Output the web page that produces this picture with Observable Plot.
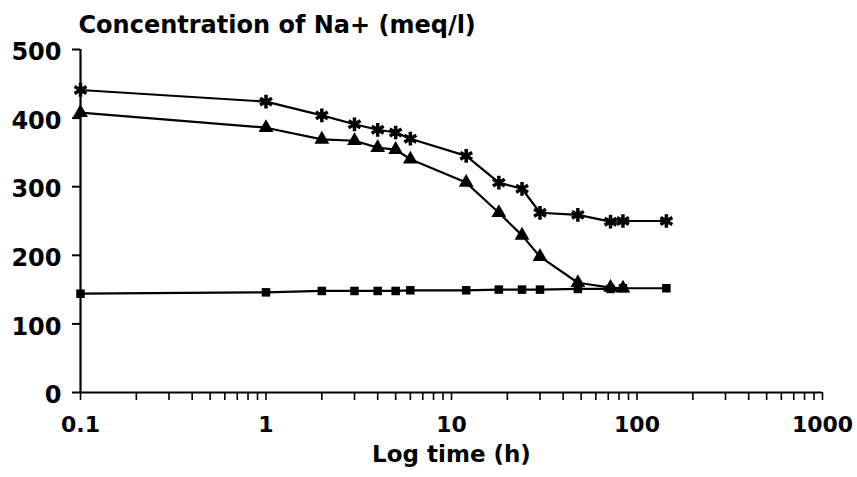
<!DOCTYPE html>
<html><head><meta charset="utf-8">
<script src="https://cdn.jsdelivr.net/npm/d3@7"></script>
<script src="https://cdn.jsdelivr.net/npm/@observablehq/plot@0.6"></script>
<style>
html,body{margin:0;padding:0;background:#fff;}
</style></head><body><div id="chart"></div>
<script>
const times = [0.1, 1, 2, 3, 4, 5, 6, 12, 18, 24, 30, 48, 72, 84, 144];
const starValues = [441, 424, 404, 391, 383, 379, 370, 345, 306, 297, 262, 259, 249, 250, 250];
const triangleValues = [408, 386, 369, 367, 357, 354, 340, 306, 262, 229, 198, 160, 153, 152, null];
const squareValues = [144, 146, 148, 148, 148, 148, 149, 149, 150, 150, 150, 151, 151, 152, 152];
const seriesNames = ["star", "triangle", "square"];
const seriesSymbols = ["asterisk", "triangle", "square"];
const yTicks = [0, 100, 200, 300, 400, 500];
const xDecades = [0.1, 1, 10, 100, 1000];
const xDecadeLabels = ["0.1", "1", "10", "100", "1000"];
const xMinorMultipliers = [2, 3, 4, 5, 6, 7, 8, 9];
const yTitle = "Concentration of Na+ (meq/l)";
const xTitle = "Log time (h)";

const valuesBySeries = [starValues, triangleValues, squareValues];
const table = [];
seriesNames.forEach((s, i) => {
  times.forEach((t, j) => {
    const v = valuesBySeries[i][j];
    if (v != null) table.push({series: s, time: t, value: v});
  });
});
const xTicks = [...xDecades];
xDecades.slice(0, -1).forEach(d => xMinorMultipliers.forEach(m => xTicks.push(+(d * m).toPrecision(3))));
const labelOf = d => {
  const k = xDecades.findIndex(v => Math.abs(v - d) < 1e-9);
  return k >= 0 ? xDecadeLabels[k] : "";
};

const chart = Plot.plot({
  width: 857,
  height: 477,
  marginLeft: 80,
  marginRight: 35,
  marginTop: 49,
  marginBottom: 85,
  style: {fontFamily: "DejaVu Sans", fontWeight: "bold", fontSize: "22px", background: "#fff", color: "#000"},
  x: {type: "log", domain: [0.1, 1000]},
  y: {domain: [0, 500]},
  marks: [
    Plot.axisY({ticks: yTicks, tickSize: 8, tickFormat: () => "", label: null, strokeWidth: 2}),
    Plot.axisY({ticks: yTicks, tickSize: 0, tickPadding: 19, label: null, fontSize: 24, dy: 3, style: "letter-spacing:1px"}),
    Plot.axisX({ticks: xTicks, tickFormat: labelOf, tickSize: 8, tickPadding: 16, label: null, strokeWidth: 1.6}),
    Plot.ruleY([0], {stroke: "#000", strokeWidth: 2.2}),
    Plot.ruleX([0.1], {stroke: "#000", strokeWidth: 2.2}),
    Plot.line(table, {x: "time", y: "value", z: "series", stroke: "#000", strokeWidth: 2.2}),
    Plot.dot(table.filter(d => d.series === "star"), {x: "time", y: "value", symbol: () => seriesSymbols[0], r: 6.5, stroke: "#000", strokeWidth: 3.5}),
    Plot.dot(table.filter(d => d.series === "triangle"), {x: "time", y: "value", symbol: () => seriesSymbols[1], r: 5.5, fill: "#000"}),
    Plot.dot(table.filter(d => d.series === "square"), {x: "time", y: "value", symbol: () => seriesSymbols[2], r: 4.8, fill: "#000"}),
    Plot.text([yTitle], {text: d => d, frameAnchor: "top-left", textAnchor: "start", lineAnchor: "top", dx: -2, dy: -34, fontSize: 24}),
    Plot.text([xTitle], {text: d => d, frameAnchor: "bottom", textAnchor: "middle", lineAnchor: "top", dy: 53, fontSize: 23})
  ]
});
document.getElementById("chart").appendChild(chart);
</script>
</body></html>
